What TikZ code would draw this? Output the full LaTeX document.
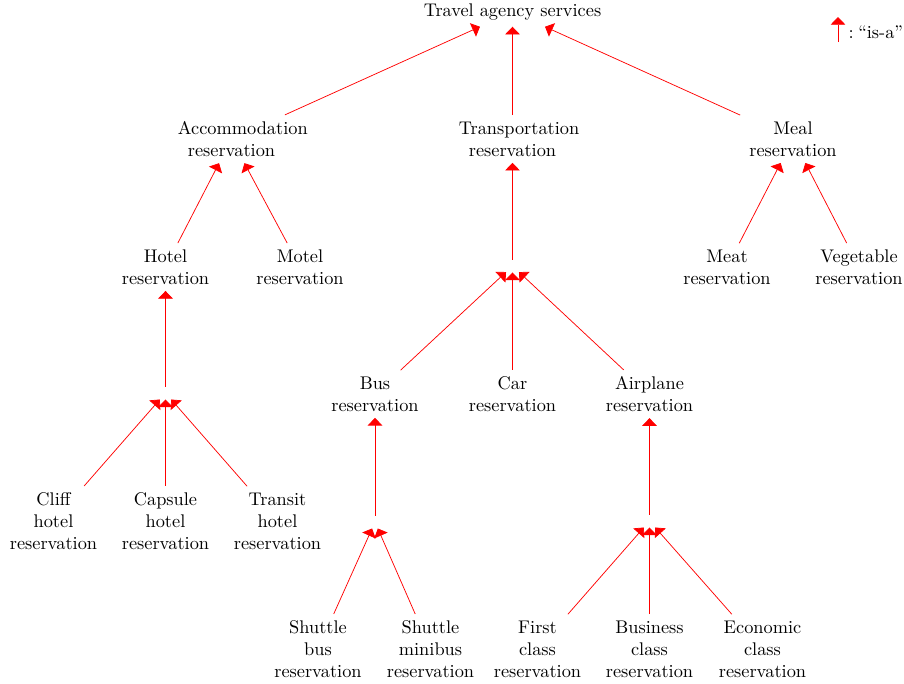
\documentclass[tikz,border=0pt]{standalone}
\usetikzlibrary{arrows.meta}

\tikzset{
  title/.style={align=center, inner sep=0.3333em},
  concept/.style={text width=58.5pt, align=center, inner sep=0.3333em},
  junction/.style={inner sep=0.3333em},
  isa/.style={draw=red, line width=0.4pt, -{Triangle[length=4.2pt,width=8pt]}},
}

\begin{document}
\begin{tikzpicture}[x=0.5455pt,y=-0.5455pt]
  \useasboundingbox (0,0) rectangle (904,683);

  % top level
  \node[title] (travel) at (512.5,12) {Travel agency services};

  % legend
  \coordinate (legbot) at (838,42);
  \coordinate (legtop) at (838,17);
  \draw[isa] (legbot) -- (legtop);
  \node[anchor=east, inner sep=0pt] (legtext) at (903.5,32) {:\hspace{0.25em}``is-a''};

  % second level
  \node[concept] (acc)   at (231.5,139) {Accommodation\\reservation};
  \node[concept] (trans) at (512.5,139) {Transportation\\reservation};
  \node[concept] (meal)  at (793,139)   {Meal\\reservation};

  % third level
  \node[concept] (hotel) at (165.5,267) {Hotel\\reservation};
  \node[concept] (motel) at (300,267)   {Motel\\reservation};
  \node[junction] (tj)   at (512.5,266) {};
  \node[concept] (meat)  at (727,267)   {Meat\\reservation};
  \node[concept] (veg)   at (859,267)   {Vegetable\\reservation};

  % fourth level
  \node[junction] (hj)    at (165.5,393) {};
  \node[concept] (bus)    at (375,394)   {Bus\\reservation};
  \node[concept] (car)    at (512.5,394) {Car\\reservation};
  \node[concept] (plane)  at (649.5,394) {Airplane\\reservation};

  % fifth level
  \node[concept] (cliff)   at (53.5,521)  {Cliff\\hotel\\reservation};
  \node[concept] (capsule) at (165.5,521) {Capsule\\hotel\\reservation};
  \node[concept] (transit) at (277.5,521) {Transit\\hotel\\reservation};
  \node[junction] (bj)     at (375,522)   {};
  \node[junction] (aj)     at (649.5,521) {};

  % bottom level
  \node[concept] (sbus)     at (318,649)   {Shuttle\\bus\\reservation};
  \node[concept] (smini)    at (430.5,649) {Shuttle\\minibus\\reservation};
  \node[concept] (first)    at (537.5,649) {First\\class\\reservation};
  \node[concept] (business) at (649.5,649) {Business\\class\\reservation};
  \node[concept] (economic) at (762.5,649) {Economic\\class\\reservation};

  % is-a links
  \draw[isa] (acc) -- (travel);
  \draw[isa] (trans) -- (travel);
  \draw[isa] (meal) -- (travel);

  \draw[isa] (hotel) -- (acc);
  \draw[isa] (motel) -- (acc);

  \draw[isa] (tj) -- (trans);
  \draw[isa] (bus) -- (tj);
  \draw[isa] (car) -- (tj);
  \draw[isa] (plane) -- (tj);

  \draw[isa] (meat) -- (meal);
  \draw[isa] (veg) -- (meal);

  \draw[isa] (hj) -- (hotel);
  \draw[isa] (cliff) -- (hj);
  \draw[isa] (capsule) -- (hj);
  \draw[isa] (transit) -- (hj);

  \draw[isa] (bj) -- (bus);
  \draw[isa] (sbus) -- (bj);
  \draw[isa] (smini) -- (bj);

  \draw[isa] (aj) -- (plane);
  \draw[isa] (first) -- (aj);
  \draw[isa] (business) -- (aj);
  \draw[isa] (economic) -- (aj);
\end{tikzpicture}
\end{document}
